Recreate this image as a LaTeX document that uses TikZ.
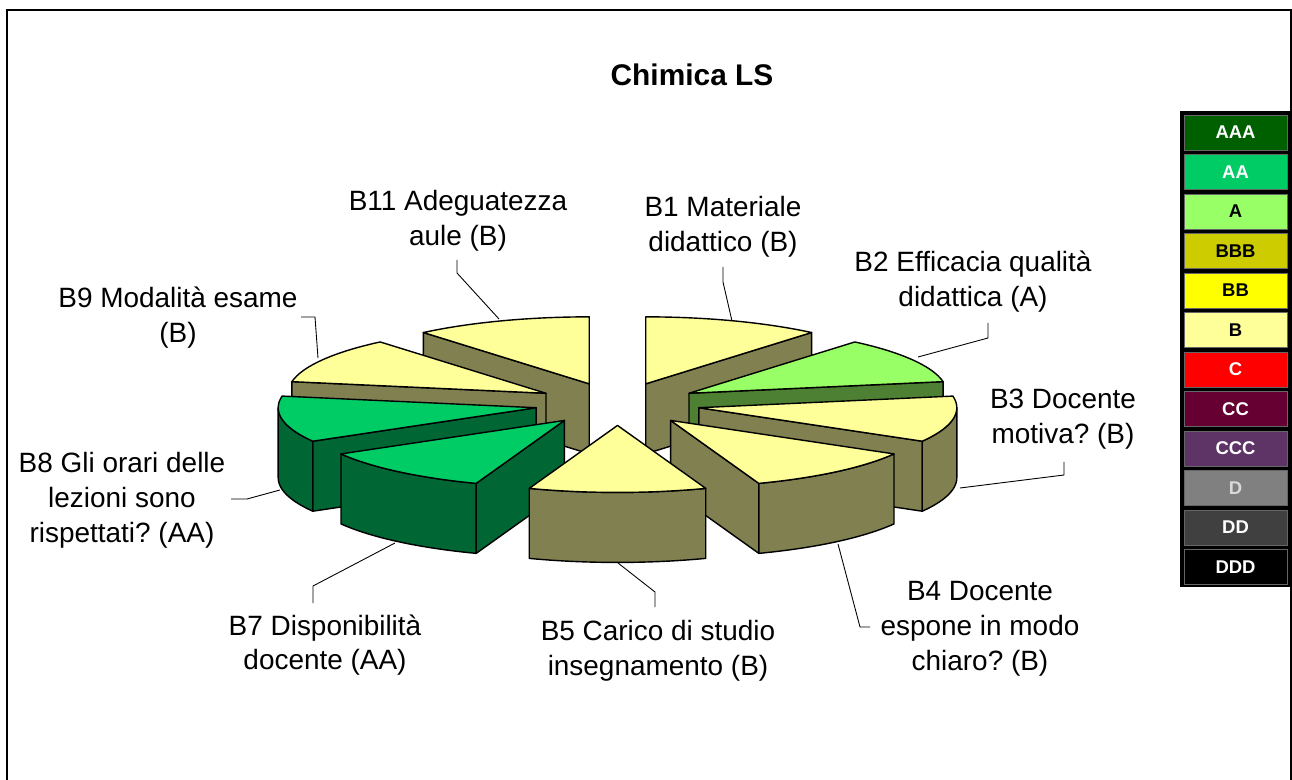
\documentclass[tikz,border=0pt]{standalone}
\usepackage{fontspec}
\setmainfont{Liberation Sans}
\frenchspacing
\definecolor{topB}{RGB}{255,255,153}
\definecolor{sideB}{RGB}{128,128,80}
\definecolor{topAA}{RGB}{0,204,102}
\definecolor{sideAA}{RGB}{0,102,51}
\definecolor{topA}{RGB}{153,255,102}
\definecolor{sideA}{RGB}{77,128,51}
\definecolor{cAAA}{RGB}{0,96,0}
\definecolor{cBBB}{RGB}{204,204,0}
\definecolor{cBB}{RGB}{255,255,0}
\definecolor{cC}{RGB}{255,0,0}
\definecolor{cCC}{RGB}{102,0,51}
\definecolor{cCCC}{RGB}{94,52,102}
\definecolor{cD}{RGB}{128,128,128}
\definecolor{cDD}{RGB}{64,64,64}
\tikzset{every node/.style={align=center}, font=\fontsize{15.9}{19.8}\selectfont,
  face/.style={draw=black, line width=0.8pt, line join=round},
  leader/.style={draw=black, line width=0.5pt},
  legcell/.style={draw=black!60, line width=0.4pt, minimum width=2.06cm, minimum height=0.7cm,
    inner sep=0pt, font=\fontsize{10.5}{12}\selectfont\bfseries}}
% one slice of the exploded pie: start, end, top colour, side colour, name
\newcommand{\pieslice}[5]{%
  \pgfmathsetmacro{\slm}{(#1+#2)/2}%
  \pgfmathsetmacro{\slx}{617.5+0.32*258*cos(\slm)}%
  \pgfmathsetmacro{\sly}{404-0.32*67*sin(\slm)}%
  \coordinate (#5) at (\slx,\sly);%
  \pgfmathsetmacro{\slc}{cos(#1)}%
  \ifdim\slc pt>0.01pt
    \draw[face,fill=#4] (#5) -- ({\slx+258*cos(#1)},{\sly-67*sin(#1)}) -- ++(0,70) -- (\slx,\sly+70) -- cycle;
  \fi
  \pgfmathsetmacro{\slc}{cos(#2)}%
  \ifdim\slc pt<-0.01pt
    \draw[face,fill=#4] (#5) -- ({\slx+258*cos(#2)},{\sly-67*sin(#2)}) -- ++(0,70) -- (\slx,\sly+70) -- cycle;
  \fi
  \pgfmathsetmacro{\sla}{max(#1,180)}%
  \pgfmathsetmacro{\slb}{min(#2,360)}%
  \ifdim\sla pt<\slb pt
    \draw[face,fill=#4] plot[domain=\sla:\slb,samples=25] ({\slx+258*cos(\x)},{\sly-67*sin(\x)})
      -- plot[domain=\slb:\sla,samples=25] ({\slx+258*cos(\x)},{\sly+70-67*sin(\x)}) -- cycle;
  \fi
  \draw[face,fill=#3] (#5) -- plot[domain=#1:#2,samples=25] ({\slx+258*cos(\x)},{\sly-67*sin(\x)}) -- cycle;
}

\begin{document}
\begin{tikzpicture}[x=0.02cm, y=-0.02cm]
  \useasboundingbox (0,0) rectangle (1292,780);
  \draw[line width=1.1pt] (7,782) -- (7,10) -- (1291,10) -- (1291,782);
  \node[font=\fontsize{17}{20}\selectfont\bfseries] (title) at (692,75) {Chimica LS};

  % pie, back to front
  \pieslice{90}{130}{topB}{sideB}{b11}
  \pieslice{50}{90}{topB}{sideB}{b1}
  \pieslice{130}{170}{topB}{sideB}{b9}
  \pieslice{10}{50}{topA}{sideA}{b2}
  \pieslice{170}{210}{topAA}{sideAA}{b8}
  \pieslice{330}{370}{topB}{sideB}{b3}
  \pieslice{210}{250}{topAA}{sideAA}{b7}
  \pieslice{290}{330}{topB}{sideB}{b4}
  \pieslice{250}{290}{topB}{sideB}{b5}

  % labels
  \node (l11) at (458,221) {B11 Adeguatezza\\aule (B)};
  \node (l1) at (723,227) {B1 Materiale\\didattico (B)};
  \node (l2) at (973,282) {B2 Efficacia qualità\\didattica (A)};
  \node (l3) at (1063,419) {B3 Docente\\motiva? (B)};
  \node (l4) at (980,629) {B4 Docente\\espone in modo\\chiaro? (B)};
  \node (l5) at (658,651) {B5 Carico di studio\\insegnamento (B)};
  \node (l7) at (325,645) {B7 Disponibilità\\docente (AA)};
  \node (l8) at (122,500) {B8 Gli orari delle\\lezioni sono\\rispettati? (AA)};
  \node (l9) at (178,318) {B9 Modalità esame\\(B)};

  % leader lines
  \coordinate (r11) at (499,319); \coordinate (k11) at (457,273); \coordinate (e11) at (457,260);
  \coordinate (r1) at (732,321);  \coordinate (k1) at (723,282);  \coordinate (e1) at (723,267);
  \coordinate (r2) at (918,357);  \coordinate (k2) at (988,338);  \coordinate (e2) at (988,323);
  \coordinate (r3) at (960,488);  \coordinate (k3) at (1064,475); \coordinate (e3) at (1064,462);
  \coordinate (r4) at (838,544);  \coordinate (k4) at (860,627);  \coordinate (e4) at (870,627);
  \coordinate (r5) at (618,563);  \coordinate (k5) at (655,592);  \coordinate (e5) at (655,607);
  \coordinate (r7) at (395,543);  \coordinate (k7) at (313,586);  \coordinate (e7) at (313,603);
  \coordinate (r8) at (280,490);  \coordinate (k8) at (247,499);  \coordinate (e8) at (231,499);
  \coordinate (r9) at (318,358);  \coordinate (k9) at (315,317);  \coordinate (e9) at (301,317);
  \foreach \s in {11,1,2,3,4,5,7,8,9}
    \draw[leader] (r\s) -- (k\s) -- (e\s);

  % legend
  \fill[black] (1180,111) rectangle (1290,587);
  \foreach \lab/\bg/\fg [count=\i from 0] in {AAA/cAAA/white, AA/topAA/white, A/topA/black,
      BBB/cBBB/black, BB/cBB/black, B/topB/black, C/cC/white, CC/cCC/white,
      CCC/cCCC/white, D/cD/white!85!black, DD/cDD/white, DDD/black/white}
    \node[legcell, fill=\bg, text=\fg] (leg\i) at (1235.5,{132.5+39.5*\i}) {\lab};
\end{tikzpicture}
\end{document}
